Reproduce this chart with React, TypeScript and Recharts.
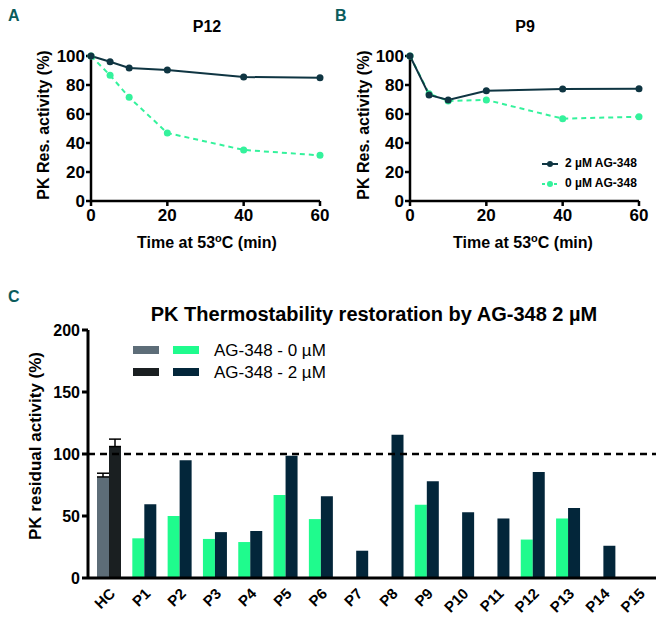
import {
  Bar,
  BarChart,
  Cell,
  ErrorBar,
  Line,
  LineChart,
  ReferenceLine,
  XAxis,
  YAxis,
} from 'recharts'

// thermostability curves (minutes at 53°C vs % residual activity)
const times = [0, 5, 10, 20, 40, 60]
const p12Treated = [100, 96, 91.7, 90.3, 85.5, 85]
const p12Untreated = [100, 86.7, 71.5, 46.9, 35.2, 31.5]
const p9Treated = [100, 73.1, 69.7, 76.1, 77.2, 77.4]
const p9Untreated = [100, 74, 69, 69.7, 56.8, 58.1]
const curveTicksX = [0, 20, 40, 60]
const curveTicksY = [0, 20, 40, 60, 80, 100]

// panel C bars
const samples = ['HC', 'P1', 'P2', 'P3', 'P4', 'P5', 'P6', 'P7', 'P8', 'P9', 'P10', 'P11', 'P12', 'P13', 'P14', 'P15']
const untreated = [81.5, 32, 50, 31.5, 29, 67, 47.5, null, null, 59, null, null, 31, 48, null, null]
const treated = [106, 59.5, 95, 37, 38, 98.5, 66, 22, 115.5, 78, 53, 48, 85.5, 56.5, 26, null]
const untreatedErr = [3, null, null, null, null, null, null, null, null, null, null, null, null, null, null, null]
const treatedErr = [6, null, null, null, null, null, null, null, null, null, null, null, null, null, null, null]
const barTicksY = [0, 50, 100, 150, 200]

const FONT = '"Liberation Sans", Arial, sans-serif'
const NAVY = '#0f3542'
const MINT = '#34f29c'
const BAR_GREEN = '#1ffb8d'
const BAR_NAVY = '#03263a'
const HC_GRAY = '#5d6d78'
const HC_DARK = '#1a1f21'
const TEAL = '#0b5c5c'

const abs = (left: number, top: number, extra: any = {}) => ({
  position: 'absolute' as const,
  left,
  top,
  fontFamily: FONT,
  color: '#000',
  whiteSpace: 'nowrap' as const,
  lineHeight: 1,
  ...extra,
})

function Centered({ x, y, children, size = 16, bold = true, rotate = 0 }: any) {
  return (
    <div
      style={abs(x, y, {
        fontSize: size,
        fontWeight: bold ? 'bold' : 'normal',
        transform: `translate(-50%, -50%) rotate(${rotate}deg)`,
      })}
    >
      {children}
    </div>
  )
}

function PanelLetter({ x, y, text }: { x: number; y: number; text: string }) {
  return (
    <div
      style={abs(x, y, {
        fontFamily: '"Liberation Sans Narrow", "Liberation Sans", sans-serif',
        fontWeight: 'bold',
        fontSize: 16,
        color: TEAL,
      })}
    >
      {text}
    </div>
  )
}

function TimeTitle() {
  return (
    <span>
      Time at 53
      <span style={{ fontSize: 11, position: 'relative', top: -6 }}>o</span>C (min)
    </span>
  )
}

function CurvePanel({
  left,
  marginLeft,
  marginRight,
  on,
  off,
}: {
  left: number
  marginLeft: number
  marginRight: number
  on: number[]
  off: number[]
}) {
  const data = times.map((t, i) => ({ t, on: on[i], off: off[i] }))
  const axisStyle = { stroke: '#000', strokeWidth: 2.5 }
  const tickStyle = { fill: '#000', fontSize: 17, fontWeight: 'bold', fontFamily: FONT }
  return (
    <div style={{ position: 'absolute', left, top: 0 }}>
      <LineChart
        width={332}
        height={260}
        data={data}
        margin={{ top: 56, right: marginRight, left: marginLeft, bottom: 29 }}
      >
        <XAxis
          type="number"
          dataKey="t"
          domain={[0, 60]}
          ticks={curveTicksX}
          height={30}
          tickSize={5}
          tickMargin={3}
          axisLine={axisStyle}
          tickLine={axisStyle}
          tick={tickStyle}
        />
        <YAxis
          type="number"
          domain={[0, 100]}
          ticks={curveTicksY}
          width={45}
          tickSize={5}
          tickMargin={1}
          axisLine={axisStyle}
          tickLine={axisStyle}
          tick={tickStyle}
        />
        <Line
          dataKey="off"
          stroke={MINT}
          strokeWidth={2}
          strokeDasharray="5 4"
          dot={{ r: 3.5, fill: MINT, stroke: MINT, strokeWidth: 0 }}
          isAnimationActive={false}
        />
        <Line
          dataKey="on"
          stroke={NAVY}
          strokeWidth={2}
          dot={{ r: 3.5, fill: NAVY, stroke: NAVY, strokeWidth: 0 }}
          isAnimationActive={false}
        />
      </LineChart>
    </div>
  )
}

function BarPanel() {
  const data = samples.map((name, i) => ({
    name,
    v0: untreated[i],
    v2: treated[i],
    e0: untreatedErr[i] == null ? undefined : [0, untreatedErr[i]],
    e2: treatedErr[i] == null ? undefined : [0, treatedErr[i]],
  }))
  const axisStyle = { stroke: '#000', strokeWidth: 3 }
  return (
    <div style={{ position: 'absolute', left: 0, top: 280 }}>
      <BarChart
        width={664}
        height={344}
        data={data}
        margin={{ top: 50, right: 8, left: 38, bottom: 0 }}
        barGap={0}
        barCategoryGap="17%"
      >
        <XAxis
          dataKey="name"
          interval={0}
          height={46}
          padding={{ left: 3, right: 0 }}
          tickSize={5}
          tickMargin={4}
          tickLine={false}
          axisLine={axisStyle}
          angle={-45}
          textAnchor="end"
          tick={{ fill: '#000', fontSize: 15, fontWeight: 'bold', fontFamily: FONT, angle: -45, textAnchor: 'end' }}
        />
        <YAxis
          type="number"
          domain={[0, 200]}
          ticks={barTicksY}
          width={50}
          tickSize={6}
          axisLine={axisStyle}
          tickLine={axisStyle}
          tick={{ fill: '#000', fontSize: 16, fontWeight: 'bold', fontFamily: FONT }}
        />
        <ReferenceLine y={100} stroke="#000" strokeWidth={2.5} strokeDasharray="7 5" />
        <Bar dataKey="v0" isAnimationActive={false}>
          {data.map((d, i) => (
            <Cell key={d.name} fill={i === 0 ? HC_GRAY : BAR_GREEN} />
          ))}
          <ErrorBar dataKey="e0" width={6} stroke="#000" strokeWidth={1.5} />
        </Bar>
        <Bar dataKey="v2" isAnimationActive={false}>
          {data.map((d, i) => (
            <Cell key={d.name} fill={i === 0 ? HC_DARK : BAR_NAVY} />
          ))}
          <ErrorBar dataKey="e2" width={6} stroke="#000" strokeWidth={1.5} />
        </Bar>
      </BarChart>
    </div>
  )
}

function LegendLine({ color, dashed }: { color: string; dashed?: boolean }) {
  return (
    <svg width={18} height={8} style={{ display: 'inline-block', marginRight: 6, verticalAlign: 'middle' }}>
      <line x1={1} y1={4} x2={17} y2={4} stroke={color} strokeWidth={2} strokeDasharray={dashed ? '3 3' : undefined} />
      <circle cx={9} cy={4} r={3} fill={color} />
    </svg>
  )
}

export default function App() {
  return (
    <div
      style={{
        position: 'absolute',
        left: 0,
        top: 0,
        width: 664,
        height: 624,
        background: '#fff',
        fontFamily: FONT,
        overflow: 'hidden',
      }}
    >
      <CurvePanel left={0} marginLeft={46} marginRight={12} on={p12Treated} off={p12Untreated} />
      <CurvePanel left={332} marginLeft={33} marginRight={25} on={p9Treated} off={p9Untreated} />
      <BarPanel />

      <PanelLetter x={8} y={8} text="A" />
      <PanelLetter x={335} y={8} text="B" />
      <PanelLetter x={8} y={289} text="C" />

      <Centered x={207} y={27}>P12</Centered>
      <Centered x={525} y={27}>P9</Centered>
      <Centered x={44} y={125} rotate={-90}>PK Res. activity (%)</Centered>
      <Centered x={364} y={125} rotate={-90}>PK Res. activity (%)</Centered>
      <Centered x={207} y={243}><TimeTitle /></Centered>
      <Centered x={523} y={243}><TimeTitle /></Centered>

      <div style={abs(541, 157, { fontSize: 12, fontWeight: 'bold' })}>
        <LegendLine color={NAVY} />2 µM AG-348
      </div>
      <div style={abs(541, 177, { fontSize: 12, fontWeight: 'bold' })}>
        <LegendLine color={MINT} dashed />0 µM AG-348
      </div>

      <Centered x={374} y={314} size={20}>PK Thermostability restoration by AG-348 2 µM</Centered>
      <Centered x={35} y={446} size={17} rotate={-90}>PK residual activity (%)</Centered>

      <div style={abs(133, 346, { width: 26, height: 8, background: HC_GRAY })} />
      <div style={abs(173, 346, { width: 26, height: 8, background: BAR_GREEN })} />
      <div style={abs(133, 368, { width: 26, height: 8, background: HC_DARK })} />
      <div style={abs(173, 368, { width: 26, height: 8, background: BAR_NAVY })} />
      <div style={abs(214, 350, { fontSize: 17, transform: 'translateY(-50%)' })}>AG-348 - 0 µM</div>
      <div style={abs(214, 372, { fontSize: 17, transform: 'translateY(-50%)' })}>AG-348 - 2 µM</div>
    </div>
  )
}
